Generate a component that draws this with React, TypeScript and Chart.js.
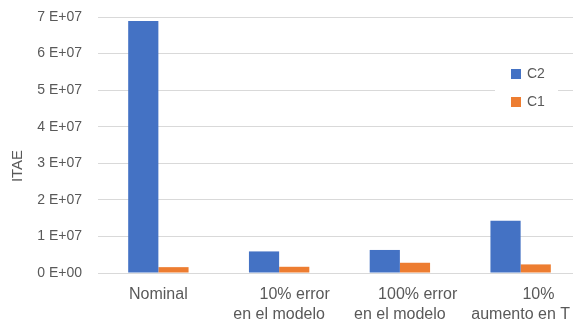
import React, { useEffect, useRef } from "react";
import { Chart, registerables } from "chart.js";

Chart.register(...registerables);

// Scenario names (first line indented as typed in the source sheet)
const categories: (string | string[])[] = [
  "Nominal",
  ["       10% error", "en el modelo"],
  ["        100% error", "en el modelo"],
  ["        10%", "aumento en T"],
];

const seriesNames = ["C2", "C1"];
const c2Values = [6.89e7, 5.9e6, 6.3e6, 1.43e7];
const c1Values = [1.6e6, 1.7e6, 2.8e6, 2.35e6];
const seriesColors = ["#4472C4", "#ED7D31"];

const yAxisTitle = "ITAE";
const yMin = 0;
const yMax = 7e7;
const yStep = 1e7;

const textColor = "#595959";
const gridColor = "#D9D9D9";
const fontFamily = "'Liberation Sans', Arial, sans-serif";

// "7 E+07" style scientific labels
function sciLabel(v: number): string {
  if (v === 0) return "0 E+00";
  const exp = Math.floor(Math.log10(Math.abs(v)) + 1e-9);
  const mant = Math.round((v / Math.pow(10, exp)) * 100) / 100;
  const sign = exp < 0 ? "-" : "+";
  return `${mant} E${sign}${String(Math.abs(exp)).padStart(2, "0")}`;
}

// Vertical axis title drawn beside the tick labels
const axisTitlePlugin = {
  id: "axisTitleLeft",
  afterDraw(chart: any) {
    const { ctx } = chart;
    ctx.save();
    ctx.translate(18, 166);
    ctx.rotate(-Math.PI / 2);
    ctx.font = `15px ${fontFamily}`;
    ctx.fillStyle = textColor;
    ctx.textAlign = "center";
    ctx.textBaseline = "middle";
    ctx.fillText(yAxisTitle, 0, 0);
    ctx.restore();
  },
};

// Legend box sitting inside the plot, over the grid lines
const insetLegendPlugin = {
  id: "insetLegend",
  afterDraw(chart: any) {
    const { ctx } = chart;
    ctx.save();
    ctx.fillStyle = "#FFFFFF";
    ctx.fillRect(495, 57, 63, 67);
    ctx.font = `14px ${fontFamily}`;
    ctx.textBaseline = "middle";
    ctx.textAlign = "left";
    chart.data.datasets.forEach((ds: any, i: number) => {
      const y = 74 + i * 28;
      ctx.fillStyle = ds.backgroundColor;
      ctx.fillRect(511, y - 5, 10, 10);
      ctx.fillStyle = textColor;
      ctx.fillText(ds.label, 527, y + 0.5);
    });
    ctx.restore();
  },
};

export default function App() {
  const canvasRef = useRef<HTMLCanvasElement | null>(null);

  useEffect(() => {
    if (!canvasRef.current) return;
    const chart = new Chart(canvasRef.current, {
      type: "bar",
      data: {
        labels: categories,
        datasets: [
          {
            label: seriesNames[0],
            data: c2Values,
            backgroundColor: seriesColors[0],
            categoryPercentage: 0.5,
            barPercentage: 1.0,
          },
          {
            label: seriesNames[1],
            data: c1Values,
            backgroundColor: seriesColors[1],
            categoryPercentage: 0.5,
            barPercentage: 1.0,
          },
        ],
      },
      options: {
        responsive: false,
        animation: false,
        devicePixelRatio: 1,
        layout: { padding: { top: 17, right: 0, bottom: 0, left: 0 } },
        plugins: {
          legend: { display: false },
          tooltip: { enabled: false },
        },
        scales: {
          x: {
            afterFit(scale: any) {
              scale.height = 52;
            },
            grid: { display: false, drawTicks: false },
            border: { display: false },
            ticks: {
              color: textColor,
              font: { family: fontFamily, size: 16, lineHeight: 1.25 },
              padding: 12,
              maxRotation: 0,
              autoSkip: false,
            },
          },
          y: {
            min: yMin,
            max: yMax,
            afterFit(scale: any) {
              scale.width = 98;
            },
            grid: {
              color: gridColor,
              lineWidth: 1,
              drawTicks: true,
              tickLength: 16,
              tickColor: "rgba(0,0,0,0)",
            },
            border: { display: false },
            ticks: {
              stepSize: yStep,
              color: textColor,
              font: { family: fontFamily, size: 14 },
              padding: 0,
              callback: (v: any) => sciLabel(Number(v)),
            },
          },
        },
      },
      plugins: [axisTitlePlugin, insetLegendPlugin],
    });
    return () => chart.destroy();
  }, []);

  return (
    <div
      style={{
        position: "fixed",
        left: 0,
        top: 0,
        width: 573,
        height: 325,
        overflow: "hidden",
        background: "#FFFFFF",
      }}
    >
      <canvas ref={canvasRef} width={582} height={325} style={{ display: "block" }} />
    </div>
  );
}
